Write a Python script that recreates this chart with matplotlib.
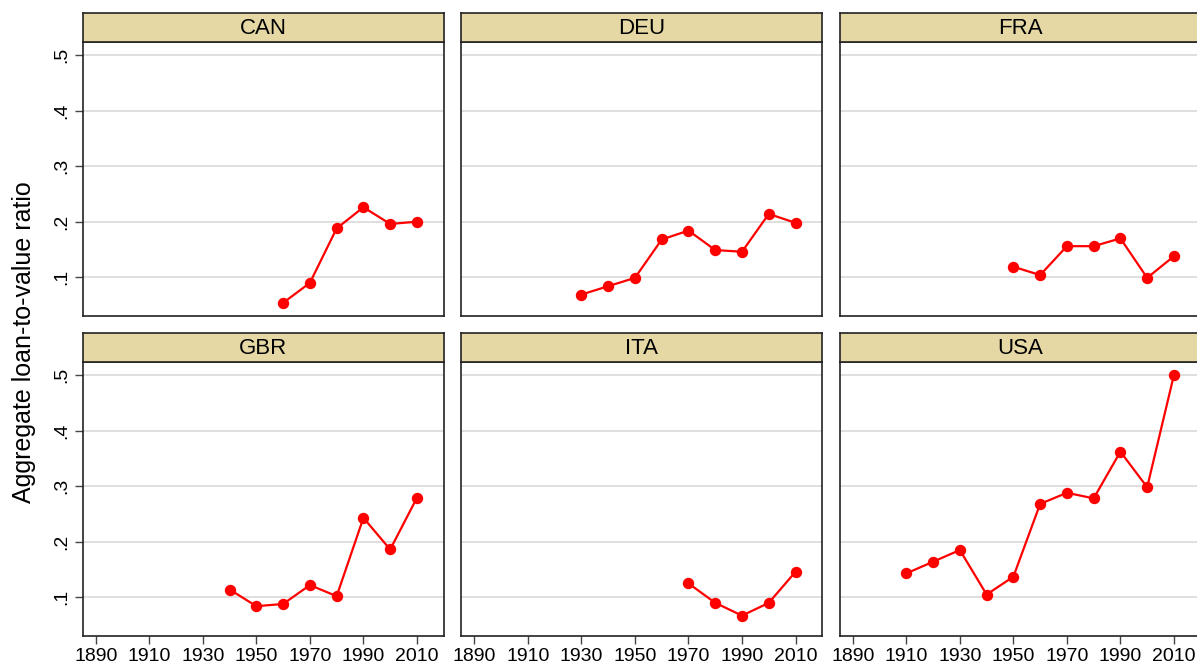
import matplotlib
matplotlib.use("Agg")
import matplotlib.pyplot as plt
import numpy as np

countries = ["CAN", "DEU", "FRA", "GBR", "ITA", "USA"]

can_years = [1960, 1970, 1980, 1990, 2000, 2010]
can_vals = [0.054, 0.090, 0.188, 0.226, 0.196, 0.200]

deu_years = [1930, 1940, 1950, 1960, 1970, 1980, 1990, 2000, 2010]
deu_vals = [0.069, 0.084, 0.099, 0.168, 0.184, 0.149, 0.146, 0.214, 0.198]

fra_years = [1950, 1960, 1970, 1980, 1990, 2000, 2010]
fra_vals = [0.119, 0.104, 0.156, 0.156, 0.170, 0.099, 0.138]

gbr_years = [1940, 1950, 1960, 1970, 1980, 1990, 2000, 2010]
gbr_vals = [0.114, 0.084, 0.088, 0.122, 0.102, 0.243, 0.186, 0.279]

ita_years = [1970, 1980, 1990, 2000, 2010]
ita_vals = [0.125, 0.090, 0.067, 0.090, 0.146]

usa_years = [1910, 1920, 1930, 1940, 1950, 1960, 1970, 1980, 1990, 2000, 2010]
usa_vals = [0.143, 0.164, 0.185, 0.105, 0.137, 0.268, 0.288, 0.278, 0.362, 0.298, 0.500]

x_ticks = [1890, 1910, 1930, 1950, 1970, 1990, 2010]
y_ticks = [0.1, 0.2, 0.3, 0.4, 0.5]
y_ticklabels = [".1", ".2", ".3", ".4", ".5"]
y_label = "Aggregate loan-to-value ratio"

series = {
    "CAN": (can_years, can_vals),
    "DEU": (deu_years, deu_vals),
    "FRA": (fra_years, fra_vals),
    "GBR": (gbr_years, gbr_vals),
    "ITA": (ita_years, ita_vals),
    "USA": (usa_years, usa_vals),
}

plt.rcParams['font.family'] = ['Liberation Sans', 'DejaVu Sans']

W, H = 1197, 664
fig = plt.figure(figsize=(W / 100, H / 100), dpi=100)

col_left = [82.7, 461.3, 839.7]
panel_w = 361.0
rows = [  # (strip_top, axes_top, axes_bottom)
    (12.7, 42.3, 315.7),
    (333.3, 362.3, 635.7),
]
strip_color = "#E5D8A5"
spine_color = "#222222"

for i, c in enumerate(countries):
    r, k = divmod(i, 3)
    st, at, ab = rows[r]
    left = col_left[k] / W
    ax = fig.add_axes([left, 1 - ab / H, panel_w / W, (ab - at) / H])
    yrs, vals = series[c]
    ax.plot(yrs, vals, color="#FF0000", lw=1.6, marker="o", ms=8.2,
            markeredgewidth=0, zorder=3, clip_on=False)
    ax.set_xlim(1885.1, 2020.0)
    ax.set_ylim(0.0309, 0.5228)
    ax.set_yticks(y_ticks)
    ax.set_xticks(x_ticks)
    ax.grid(axis="y", color="#DCDCDC", lw=1.3)
    ax.grid(axis="x", visible=False)
    ax.set_axisbelow(True)
    for s in ax.spines.values():
        s.set_color(spine_color)
        s.set_linewidth(1.2)
    ax.tick_params(axis="both", direction="out", length=6, width=1.0,
                   color="#444444", labelsize=14, pad=3)
    if k == 0:
        ax.set_yticklabels(y_ticklabels, rotation=90, va="center")
    else:
        ax.tick_params(axis="y", left=False, labelleft=False)
    if r == 0:
        ax.tick_params(axis="x", bottom=False, labelbottom=False)

    sax = fig.add_axes([left, 1 - at / H, panel_w / W, (at - st) / H])
    sax.set_facecolor(strip_color)
    sax.set_xticks([])
    sax.set_yticks([])
    for s in sax.spines.values():
        s.set_color(spine_color)
        s.set_linewidth(1.2)
    sax.text(0.5, 0.47, c, ha="center", va="center", fontsize=16,
             transform=sax.transAxes)

fig.text(24 / W, 1 - 342 / H, y_label, rotation=90, ha="center", va="center",
         fontsize=18)

fig.savefig("out.png", dpi=100)
